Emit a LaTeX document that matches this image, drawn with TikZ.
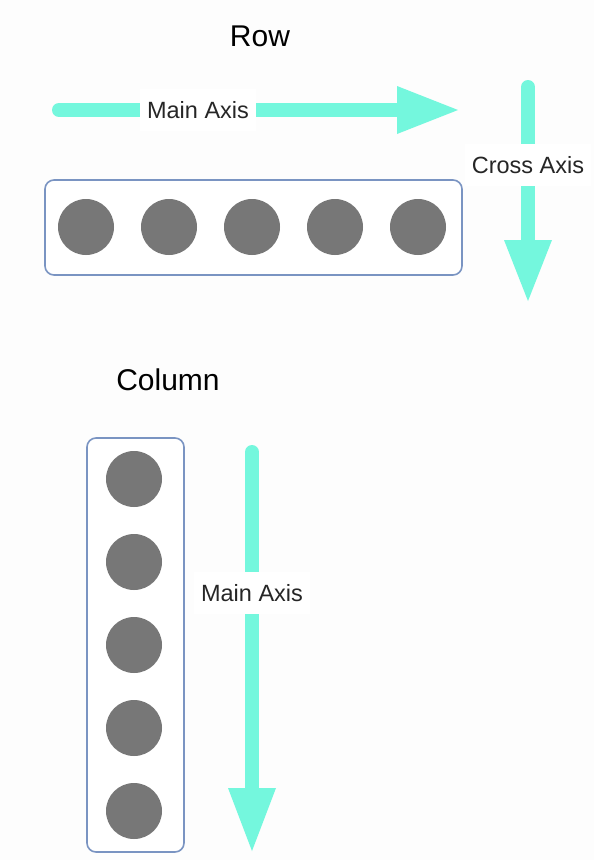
\documentclass[tikz,border=0pt]{standalone}
\usepackage{fontspec}
\setmainfont{Liberation Sans}
\definecolor{axisc}{HTML}{74F7DD}
\definecolor{dotc}{HTML}{777777}
\definecolor{boxc}{HTML}{7A94C2}
\definecolor{bgc}{HTML}{FDFDFD}
\tikzset{
  shaft/.style={draw=axisc, line width=14pt, line cap=round},
  head/.style={fill=axisc},
  axislabel/.style={fill=white, inner xsep=7pt, inner ysep=12pt, font=\fontsize{23.5}{26}\selectfont, text=black!85},
  title/.style={font=\fontsize{30}{33}\selectfont, text=black},
  dot/.style={circle, fill=dotc, minimum size=56pt, inner sep=0pt},
  holder/.style={draw=boxc, line width=1.6pt, rounded corners=9pt, fill=white}
}
\begin{document}
\begin{tikzpicture}[x=1pt,y=-1pt]
\useasboundingbox (0,0) rectangle (594,860);
\fill[bgc] (0,0) rectangle (594,860);
% Row
\node[title] (rowt) at (260,36) {Row};
\coordinate (ma1) at (59,110);
\coordinate (ma2) at (458,110);
\coordinate (mab) at (397,110);
\draw[shaft] (ma1) -- (mab);
\fill[head] (ma2) -- ([yshift=-24pt]mab) -- ([yshift=24pt]mab) -- cycle;
\node[axislabel] (mal) at (198,110) {Main Axis};
\coordinate (ca1) at (528,87);
\coordinate (ca2) at (528,301);
\coordinate (cab) at (528,240);
\draw[shaft] (ca1) -- (cab);
\fill[head] (ca2) -- ([xshift=-24pt]cab) -- ([xshift=24pt]cab) -- cycle;
\node[axislabel] (cal) at (528,165) {Cross Axis};
\node[holder, minimum width=417pt, minimum height=95pt] (rowbox) at (253.5,227.5) {};
\foreach \i/\x in {1/86,2/169,3/252,4/335,5/418}{
  \node[dot] (r\i) at (\x,227) {};
}
% Column
\node[title] (colt) at (168,380) {Column};
\node[holder, minimum width=97pt, minimum height=414pt] (colbox) at (135.5,645) {};
\foreach \i/\y in {1/479,2/562,3/645,4/728,5/811}{
  \node[dot] (c\i) at (134,\y) {};
}
\coordinate (cm1) at (252,452);
\coordinate (cm2) at (252,851);
\coordinate (cmb) at (252,788);
\draw[shaft] (cm1) -- (cmb);
\fill[head] (cm2) -- ([xshift=-24pt]cmb) -- ([xshift=24pt]cmb) -- cycle;
\node[axislabel] (cml) at (252,593) {Main Axis};
\end{tikzpicture}
\end{document}
